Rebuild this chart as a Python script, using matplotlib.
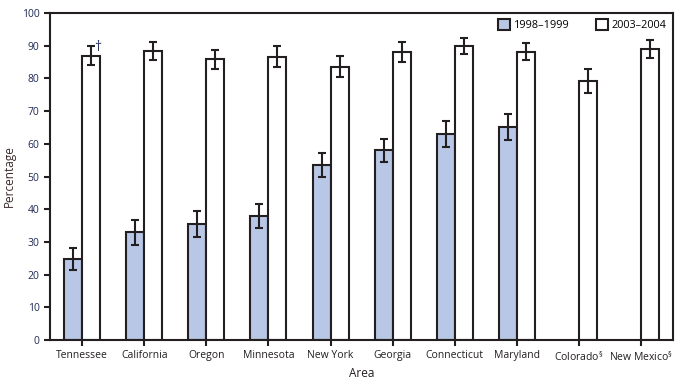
import numpy as np
import matplotlib.pyplot as plt

plt.rcParams['font.family'] = ['Open Sans', 'DejaVu Sans']

areas = ['Tennessee', 'California', 'Oregon', 'Minnesota', 'New York',
         'Georgia', 'Connecticut', 'Maryland', 'Colorado$^{\\S}$', 'New Mexico$^{\\S}$']
pct_1998 = [24.7, 33.0, 35.6, 38.0, 53.6, 58.0, 63.1, 65.2, np.nan, np.nan]
err_1998 = [3.4, 3.8, 4.0, 3.7, 3.7, 3.5, 4.0, 3.9, np.nan, np.nan]
pct_2003 = [87.0, 88.3, 85.8, 86.6, 83.5, 88.0, 90.0, 88.2, 79.3, 89.0]
err_2003 = [2.8, 2.7, 2.9, 3.2, 3.2, 3.0, 2.5, 2.5, 3.7, 2.8]

dark = '#231f20'
blue = '#b8c7e6'

fig = plt.figure(figsize=(6.91, 3.88), dpi=100)
ax = fig.add_axes([0.0724, 0.1237, 0.9016, 0.8428])

x = np.arange(len(areas))
w = 0.29
ekw = dict(ecolor=dark, elinewidth=1.5, capsize=3, capthick=1.5)
ax.bar(x - w / 2, pct_1998, w, yerr=err_1998, color=blue, edgecolor=dark,
       linewidth=1.5, error_kw=ekw, label='1998–1999')
ax.bar(x + w / 2, pct_2003, w, yerr=err_2003, color='white', edgecolor=dark,
       linewidth=1.5, error_kw=ekw, label='2003–2004')

# dagger on Tennessee 2003-2004
ax.text(x[0] + w / 2 + 0.04, pct_2003[0] + err_2003[0] - 2.5, '†',
        color='#2a3560', fontsize=10, ha='left', va='bottom')

ax.set_xlim(-0.52, 9.52)
ax.set_ylim(0, 100)
ax.set_yticks(range(0, 101, 10))
ax.set_xticks(x)
ax.set_xticklabels(areas)
ax.tick_params(axis='both', labelsize=7.5, colors=dark, width=1.5, length=4)
ax.tick_params(axis='y', labelcolor='#1f2a55')
for s in ax.spines.values():
    s.set_linewidth(1.5)
    s.set_color(dark)

ax.set_xlabel('Area', fontsize=8.5, color=dark, labelpad=2)
ax.set_ylabel('Percentage', fontsize=8.5, color='#3a2a2a', labelpad=4)

ax.legend(loc='upper right', ncol=2, frameon=False, fontsize=7.8,
          handlelength=1.1, handleheight=1.1, columnspacing=2.5,
          borderaxespad=0.2, handletextpad=0.3)

plt.savefig('out.png', dpi=100)
